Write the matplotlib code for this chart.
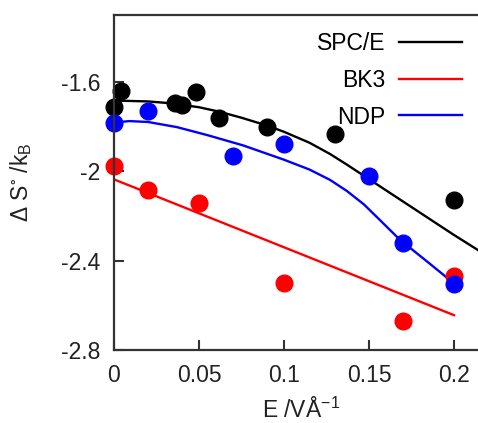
"""Entropy change vs applied field for three water models: points plus fits."""

import numpy as np
import matplotlib
matplotlib.use("Agg")
import matplotlib.pyplot as plt

plt.rcParams["font.family"] = ["Liberation Sans", "DejaVu Sans"]
plt.rcParams["mathtext.fontset"] = "custom"
plt.rcParams["mathtext.rm"] = "Liberation Sans"
plt.rcParams["mathtext.default"] = "regular"

# simulation points
spce_x = [0.0, 0.004, 0.036, 0.04, 0.048, 0.062, 0.09, 0.13, 0.2]
spce_y = [-1.71, -1.642, -1.692, -1.705, -1.647, -1.759, -1.803, -1.832, -2.13]
bk3_x = [0.0, 0.02, 0.05, 0.1, 0.17, 0.2]
bk3_y = [-1.976, -2.085, -2.143, -2.502, -2.670, -2.469]
ndp_x = [0.0, 0.02, 0.07, 0.1, 0.15, 0.17, 0.2]
ndp_y = [-1.785, -1.732, -1.933, -1.876, -2.021, -2.319, -2.506]

# fitted curves
spce_fit_x = [0.0, 0.02, 0.033, 0.05, 0.062, 0.075, 0.09, 0.1, 0.115, 0.127,
              0.137, 0.147, 0.158, 0.168, 0.177, 0.186, 0.2, 0.214, 0.22]
spce_fit_y = [-1.683, -1.687, -1.695, -1.713, -1.733, -1.76, -1.795, -1.823, -1.872, -1.922,
              -1.97, -2.02, -2.075, -2.125, -2.17, -2.215, -2.285, -2.352, -2.382]
bk3_fit_x = [0.0, 0.2]
bk3_fit_y = [-2.036, -2.644]
ndp_fit_x = [0.0, 0.009, 0.02, 0.037, 0.055, 0.076, 0.1, 0.115, 0.127,
             0.137, 0.147, 0.156, 0.168, 0.186, 0.2]
ndp_fit_y = [-1.782, -1.775, -1.779, -1.802, -1.838, -1.884, -1.948, -1.992, -2.038,
             -2.088, -2.148, -2.215, -2.305, -2.415, -2.502]

fig = plt.figure(figsize=(4.78, 4.23), dpi=100)
ax = fig.add_axes([114 / 478, 73 / 423, 374 / 478, 335 / 423])

lw = 1.7
ax.plot(spce_fit_x, spce_fit_y, color="black", lw=lw, label="SPC/E")
ax.plot(bk3_fit_x, bk3_fit_y, color="red", lw=lw, label="BK3")
ax.plot(ndp_fit_x, ndp_fit_y, color="blue", lw=lw, label="NDP")

ms = 12
ax.plot(spce_x, spce_y, "o", color="black", ms=ms, clip_on=False)
ax.plot(bk3_x, bk3_y, "o", color="red", ms=ms, clip_on=False)
ax.plot(ndp_x, ndp_y, "o", color="blue", ms=ms, clip_on=False)

ax.set_xlim(0, 0.22)
ax.set_ylim(-2.8, -1.3)
ax.set_xticks([0, 0.05, 0.1, 0.15, 0.2])
ax.set_xticklabels(["0", "0.05", "0.1", "0.15", "0.2"])
ax.set_yticks([-1.6, -2.0, -2.4, -2.8])
ax.set_yticklabels(["-1.6", "-2", "-2.4", "-2.8"])

spine_col = "#333333"
for s in ax.spines.values():
    s.set_linewidth(1.6)
    s.set_color(spine_col)
ax.spines["right"].set_visible(False)
ax.tick_params(direction="in", length=7, width=1.5, color=spine_col,
               labelsize=16.5, labelcolor="#222222")
ax.tick_params(axis="x", pad=10)
ax.tick_params(axis="y", pad=10)

ax.set_xlabel("E /VÅ$^{-1}$", fontsize=16.5, color="#222222", labelpad=8)
ax.set_ylabel("Δ S$^{\\circ}$ /k$_{B}$", fontsize=16.5, color="#222222")
ax.yaxis.set_label_coords(-0.215, 0.5)

ax.legend(loc="upper right", bbox_to_anchor=(462 / 478, 391 / 423),
          bbox_transform=fig.transFigure, frameon=False, markerfirst=False,
          fontsize=16.5, handlelength=2.75, handletextpad=0.6,
          labelspacing=0.6, borderpad=0, borderaxespad=0)

fig.savefig("out.png", dpi=100)
